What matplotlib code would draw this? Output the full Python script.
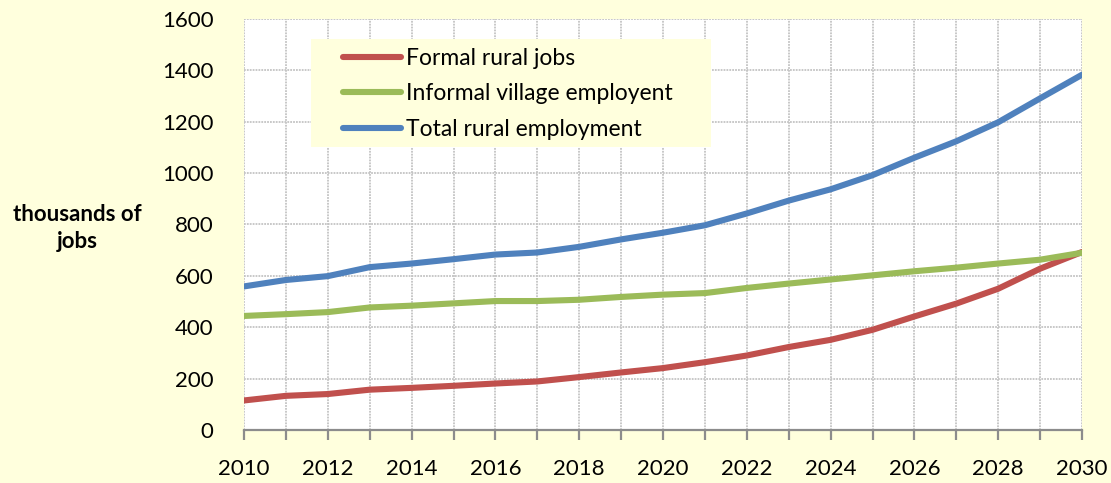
import matplotlib
matplotlib.use("Agg")
import matplotlib.pyplot as plt
from matplotlib.patches import Rectangle

years = list(range(2010, 2031))
formal_rural_jobs = [115, 133, 140, 157, 164, 172, 181, 189, 206, 224, 241,
                     264, 290, 323, 351, 390, 442, 492, 550, 628, 693]
informal_village = [444, 451, 459, 477, 484, 493, 502, 502, 507, 518, 527,
                    533, 553, 570, 586, 602, 618, 632, 648, 663, 690]
total_rural = [559, 584, 599, 634, 648, 665, 683, 691, 713, 742, 768,
               797, 843, 893, 937, 992, 1060, 1124, 1198, 1291, 1383]
series_labels = ["Formal rural jobs", "Informal village employent", "Total rural employment"]
y_ticks = [0, 200, 400, 600, 800, 1000, 1200, 1400, 1600]
x_tick_years = list(range(2010, 2031, 2))

plt.rcParams["font.family"] = ["Lato", "DejaVu Sans"]

bg = "#FFFFDD"
fig = plt.figure(figsize=(11.11, 4.83), dpi=100, facecolor=bg)
ax = fig.add_axes([244 / 1111, 1 - 430 / 483, (1082 - 244) / 1111, (430 - 19) / 483])
ax.set_facecolor("white")

colors = ["#C0504D", "#9BBB59", "#4F81BD"]
for vals, lab, c in zip([formal_rural_jobs, informal_village, total_rural], series_labels, colors):
    ax.plot(years, vals, color=c, lw=4.4, solid_capstyle="round", label=lab, zorder=3)

ax.set_xlim(2010, 2030)
ax.set_ylim(0, 1600)
ax.set_yticks(y_ticks)
ax.set_xticks(x_tick_years)
ax.set_xticks(years, minor=True)

grid_kw = dict(color="#C4C4C4", linestyle=(0, (1, 0.6)), linewidth=1.3, zorder=1)
for y in y_ticks[1:]:
    ax.axhline(y, **grid_kw)
for x in years:
    ax.axvline(x, **grid_kw)

for s in ["top", "right", "left"]:
    ax.spines[s].set_visible(False)
ax.spines["bottom"].set_color("#8C8C8C")
ax.spines["bottom"].set_linewidth(1.6)
ax.spines["bottom"].set_zorder(4)

ax.tick_params(axis="y", length=0, labelsize=16, pad=22, colors="black")
ax.tick_params(axis="x", which="both", length=7, width=1.6, color="#8C8C8C",
               direction="out", labelsize=16, pad=14)

fig.text(77 / 1111, 1 - 228 / 483, "thousands of\njobs", ha="center", va="center",
         fontsize=16, fontweight="bold", linespacing=1.3)

# legend panel
ax.add_patch(Rectangle((0.080, 0.689), 0.477, 0.262, transform=ax.transAxes,
                       facecolor=bg, edgecolor="none", zorder=5))
leg = ax.legend(loc="upper left", bbox_to_anchor=(0.118, 0.930), fontsize=16.5,
                frameon=False, handlelength=2.55, handletextpad=0.2, borderpad=0,
                labelspacing=0.64, borderaxespad=0)
leg.set_zorder(6)
for line in leg.get_lines():
    line.set_linewidth(4.4)

fig.savefig("out.png", dpi=100, facecolor=bg)
